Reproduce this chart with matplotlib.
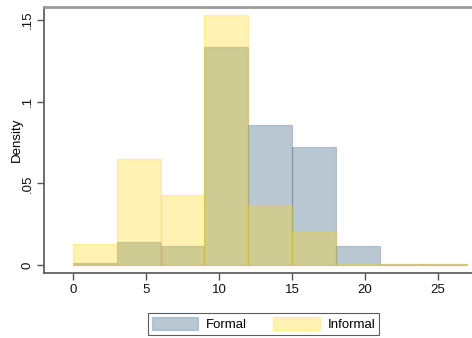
import matplotlib
matplotlib.use("Agg")
import matplotlib.pyplot as plt
import numpy as np

plt.rcParams['font.family'] = ['Liberation Sans', 'DejaVu Sans']

# histogram bins (width 3) and densities per group
bin_edges = [0, 3, 6, 9, 12, 15, 18, 21, 24, 27]
formal = [0.0012, 0.0140, 0.0116, 0.1335, 0.0857, 0.0723, 0.0116, 0.0008, 0.0003]
informal = [0.0129, 0.0650, 0.0429, 0.1530, 0.0367, 0.0202, 0.0005, 0.0004, 0.0005]

x_ticks = [0, 5, 10, 15, 20, 25]
y_ticks = [0, 0.05, 0.10, 0.15]
y_ticklabels = ['0', '.05', '.1', '.15']

navy = (26/255, 71/255, 111/255)
gold = (255/255, 215/255, 0/255)

fig = plt.figure(figsize=(4.72, 3.38), dpi=100)
ax = fig.add_axes([44/472, 1 - 272.5/338, 1 - 44/472, (272.5 - 7)/338])

edges = np.array(bin_edges)
lefts = edges[:-1]
widths = np.diff(edges)

ax.bar(lefts, formal, width=widths, align='edge',
       color=navy + (0.3,), edgecolor=navy + (0.22,), linewidth=0.9, label='Formal')
ax.bar(lefts, informal, width=widths, align='edge',
       color=gold + (0.3,), edgecolor=gold + (0.3,), linewidth=0.9, label='Informal')

ax.set_xlim(-1.99, 27.33)
ax.set_ylim(-0.0046, 0.158)

ax.set_xticks(x_ticks)
ax.set_yticks(y_ticks)
ax.set_yticklabels(y_ticklabels, rotation=90, va='center')
ax.set_ylabel('Density', fontsize=9.5)
ax.yaxis.set_label_coords(-21.5/428, 0.5)

ax.tick_params(axis='both', direction='out', length=5, width=1,
               color='#555555', labelsize=9.5, labelcolor='#111111')
ax.tick_params(axis='x', pad=3.5)
ax.tick_params(axis='y', pad=2.5)

for s in ['left', 'bottom']:
    ax.spines[s].set_color('#555555')
    ax.spines[s].set_linewidth(1.2)
ax.spines['right'].set_visible(False)
ax.spines['top'].set_color('#999999')
ax.spines['top'].set_linewidth(2)

leg = fig.legend(loc='upper center', bbox_to_anchor=(263.5/472, 1 - 313/338),
                 ncol=2, fontsize=9.5, frameon=True, fancybox=False,
                 handlelength=3.5, handleheight=1.2, columnspacing=2.0,
                 borderpad=0.3, handletextpad=0.6, borderaxespad=0)
leg.get_frame().set_edgecolor('#333333')
leg.get_frame().set_linewidth(0.8)

fig.savefig('out.png', dpi=100)
